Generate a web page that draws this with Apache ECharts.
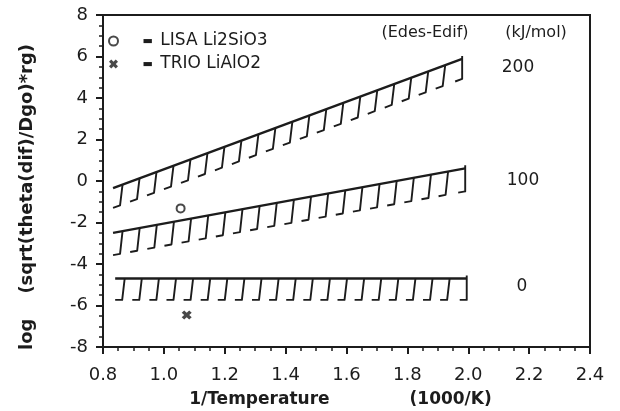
<!DOCTYPE html>
<html>
<head>
<meta charset="utf-8">
<script src="https://cdn.jsdelivr.net/npm/echarts@6/dist/echarts.min.js"></script>
<style>
html,body{margin:0;padding:0;background:#fff;}
#c{width:620px;height:411px;}
</style>
</head>
<body>
<div id="c"></div>
<script>
// ---- data ----
const bandNames = ['200', '100', '0'];            // (Edes-Edif) kJ/mol
const bandStartX = [0.833, 0.833, 0.84];
const bandEndX   = [1.98, 1.99, 1.995];
const bandTopStartY = [-0.34, -2.50, -4.70];
const bandTopEndY   = [5.88, 0.61, -4.70];
const bandLowStartY = [-1.30, -3.57, -5.73];
const bandLowEndY   = [4.92, -0.50, -5.73];

const lisaX = [1.055], lisaY = [-1.32];
const trioX = [1.075], trioY = [-6.46];

const xMin = 0.8, xMax = 2.4, xStep = 0.2;
const yMin = -8, yMax = 8, yStep = 2;

// ---- chart ----
const INK = '#1c1c1c';
const FONT = 'DejaVu Sans, Liberation Sans, sans-serif';
const HATCHES = 21, FOOT = 7, SLANT = 2.5;

const bandData = bandNames.map((n, i) => [bandStartX[i], bandTopStartY[i], bandEndX[i], bandTopEndY[i], bandLowStartY[i], bandLowEndY[i]]);

function lerp(a, b, t) { return [a[0] + (b[0] - a[0]) * t, a[1] + (b[1] - a[1]) * t]; }

function renderBand(params, api) {
  const x0 = api.value(0), y0 = api.value(1), x1 = api.value(2), y1 = api.value(3), l0 = api.value(4), l1 = api.value(5);
  const p0 = api.coord([x0, y0]), p1 = api.coord([x1, y1]);
  const q0 = api.coord([x0, l0]), q1 = api.coord([x1, l1]);
  const L = p1[0] - p0[0];
  const children = [{
    type: 'polyline', shape: { points: [p0, p1] },
    style: { stroke: INK, lineWidth: 2.4, fill: null }
  }];
  for (let i = 0; i < HATCHES; i++) {
    const t = (FOOT + SLANT + i * (L - FOOT - SLANT) / (HATCHES - 1)) / L;
    const top = lerp(p0, p1, t);
    const last = i === HATCHES - 1;
    const tb = last ? t : t - SLANT / L;
    const bot = lerp(q0, q1, tb);
    const tf = tb - FOOT / L;
    const foot = lerp(q0, q1, tf);
    const pts = last ? [[top[0], top[1] - 3], bot, foot] : [top, bot, foot];
    children.push({
      type: 'polyline', shape: { points: pts },
      style: { stroke: INK, lineWidth: 1.9, fill: null, lineJoin: 'round' }
    });
  }
  return { type: 'group', children: children };
}

const xSymbol = 'path://M0,2.5 L2.5,0 L5,2.5 L7.5,0 L10,2.5 L7.5,5 L10,7.5 L7.5,10 L5,7.5 L2.5,10 L0,7.5 L2.5,5 Z';

const chart = echarts.init(document.getElementById('c'), null, { renderer: 'canvas' });
chart.setOption({
  backgroundColor: '#fff',
  animation: false,
  textStyle: { fontFamily: FONT, color: INK },
  grid: { left: 103, right: 30, top: 15, bottom: 64, outerBoundsMode: 'none', containLabel: false,
    show: true, borderColor: INK, borderWidth: 2, backgroundColor: 'transparent' },
  legend: {
    left: 103, top: 27, orient: 'vertical', itemGap: 5,
    itemWidth: 10, itemHeight: 9,
    formatter: function (name) { return '{d|\u25AC} ' + name; },
    textStyle: { fontSize: 17, lineHeight: 18, color: INK, fontFamily: FONT,
      rich: { d: { fontSize: 11, padding: [0, 2, 0, 19], color: INK } } },
    data: [
      { name: 'LISA Li2SiO3', icon: 'emptyCircle', itemStyle: { borderWidth: 2, borderColor: INK, color: INK } },
      { name: 'TRIO LiAlO2', icon: xSymbol, itemStyle: { color: INK } }
    ]
  },
  xAxis: {
    type: 'value', min: xMin, max: xMax, interval: xStep,
    name: '{a|1/Temperature}{g|}{a|(1000/K)}{e|}', nameLocation: 'middle', nameGap: 44,
    nameTextStyle: { fontSize: 17, fontWeight: 'bold', color: INK, fontFamily: FONT,
      rich: { a: { fontSize: 17, fontWeight: 'bold', color: INK, fontFamily: FONT }, g: { width: 80 }, e: { width: 12 } } },
    axisLine: { show: true, onZero: false, lineStyle: { color: INK, width: 2 } },
    axisTick: { show: true, inside: false, length: 7, lineStyle: { color: INK, width: 2 } },
    minorTick: { show: true, splitNumber: 4, length: 4, lineStyle: { color: INK, width: 1.5 } },
    splitLine: { show: false },
    axisLabel: { fontSize: 18, color: INK, margin: 19, fontFamily: FONT, formatter: v => v.toFixed(1) }
  },
  yAxis: {
    type: 'value', min: yMin, max: yMax, interval: yStep,
    name: '{a|log}{g|}{a|(sqrt(theta(dif)/Dgo)*rg)}{e|}', nameLocation: 'middle', nameGap: 67, nameRotate: 90,
    nameTextStyle: { fontSize: 18, fontWeight: 'bold', color: INK, fontFamily: FONT,
      rich: { a: { fontSize: 18, fontWeight: 'bold', color: INK, fontFamily: FONT }, g: { width: 25 }, e: { width: 32 } } },
    axisLine: { show: true, onZero: false, lineStyle: { color: INK, width: 2 } },
    axisTick: { show: true, inside: false, length: 7, lineStyle: { color: INK, width: 2 } },
    minorTick: { show: true, splitNumber: 4, length: 4, lineStyle: { color: INK, width: 1.5 } },
    splitLine: { show: false },
    axisLabel: { fontSize: 18, color: INK, margin: 15, fontFamily: FONT }
  },
  graphic: [
    { type: 'text', x: 425, y: 33, style: { text: '(Edes-Edif)', font: '16px ' + FONT, fill: INK, align: 'center', verticalAlign: 'middle' } },
    { type: 'text', x: 536, y: 33, style: { text: '(kJ/mol)', font: '16px ' + FONT, fill: INK, align: 'center', verticalAlign: 'middle' } },
    { type: 'text', x: 518, y: 68, style: { text: bandNames[0], font: '17px ' + FONT, fill: INK, align: 'center', verticalAlign: 'middle' } },
    { type: 'text', x: 523, y: 181, style: { text: bandNames[1], font: '17px ' + FONT, fill: INK, align: 'center', verticalAlign: 'middle' } },
    { type: 'text', x: 522, y: 287, style: { text: bandNames[2], font: '17px ' + FONT, fill: INK, align: 'center', verticalAlign: 'middle' } }
  ],
  series: [
    {
      type: 'custom', name: 'bands', renderItem: renderBand, data: bandData,
      encode: { x: [0, 2], y: [1, 3, 4, 5] }, silent: true
    },
    {
      type: 'scatter', name: 'LISA Li2SiO3', data: lisaX.map((x, i) => [x, lisaY[i]]),
      symbol: 'emptyCircle', symbolSize: 8,
      itemStyle: { color: INK, borderColor: INK, borderWidth: 2 }
    },
    {
      type: 'scatter', name: 'TRIO LiAlO2', data: trioX.map((x, i) => [x, trioY[i]]),
      symbol: xSymbol, symbolSize: [10, 9],
      itemStyle: { color: INK }
    }
  ]
});
</script>
</body>
</html>
